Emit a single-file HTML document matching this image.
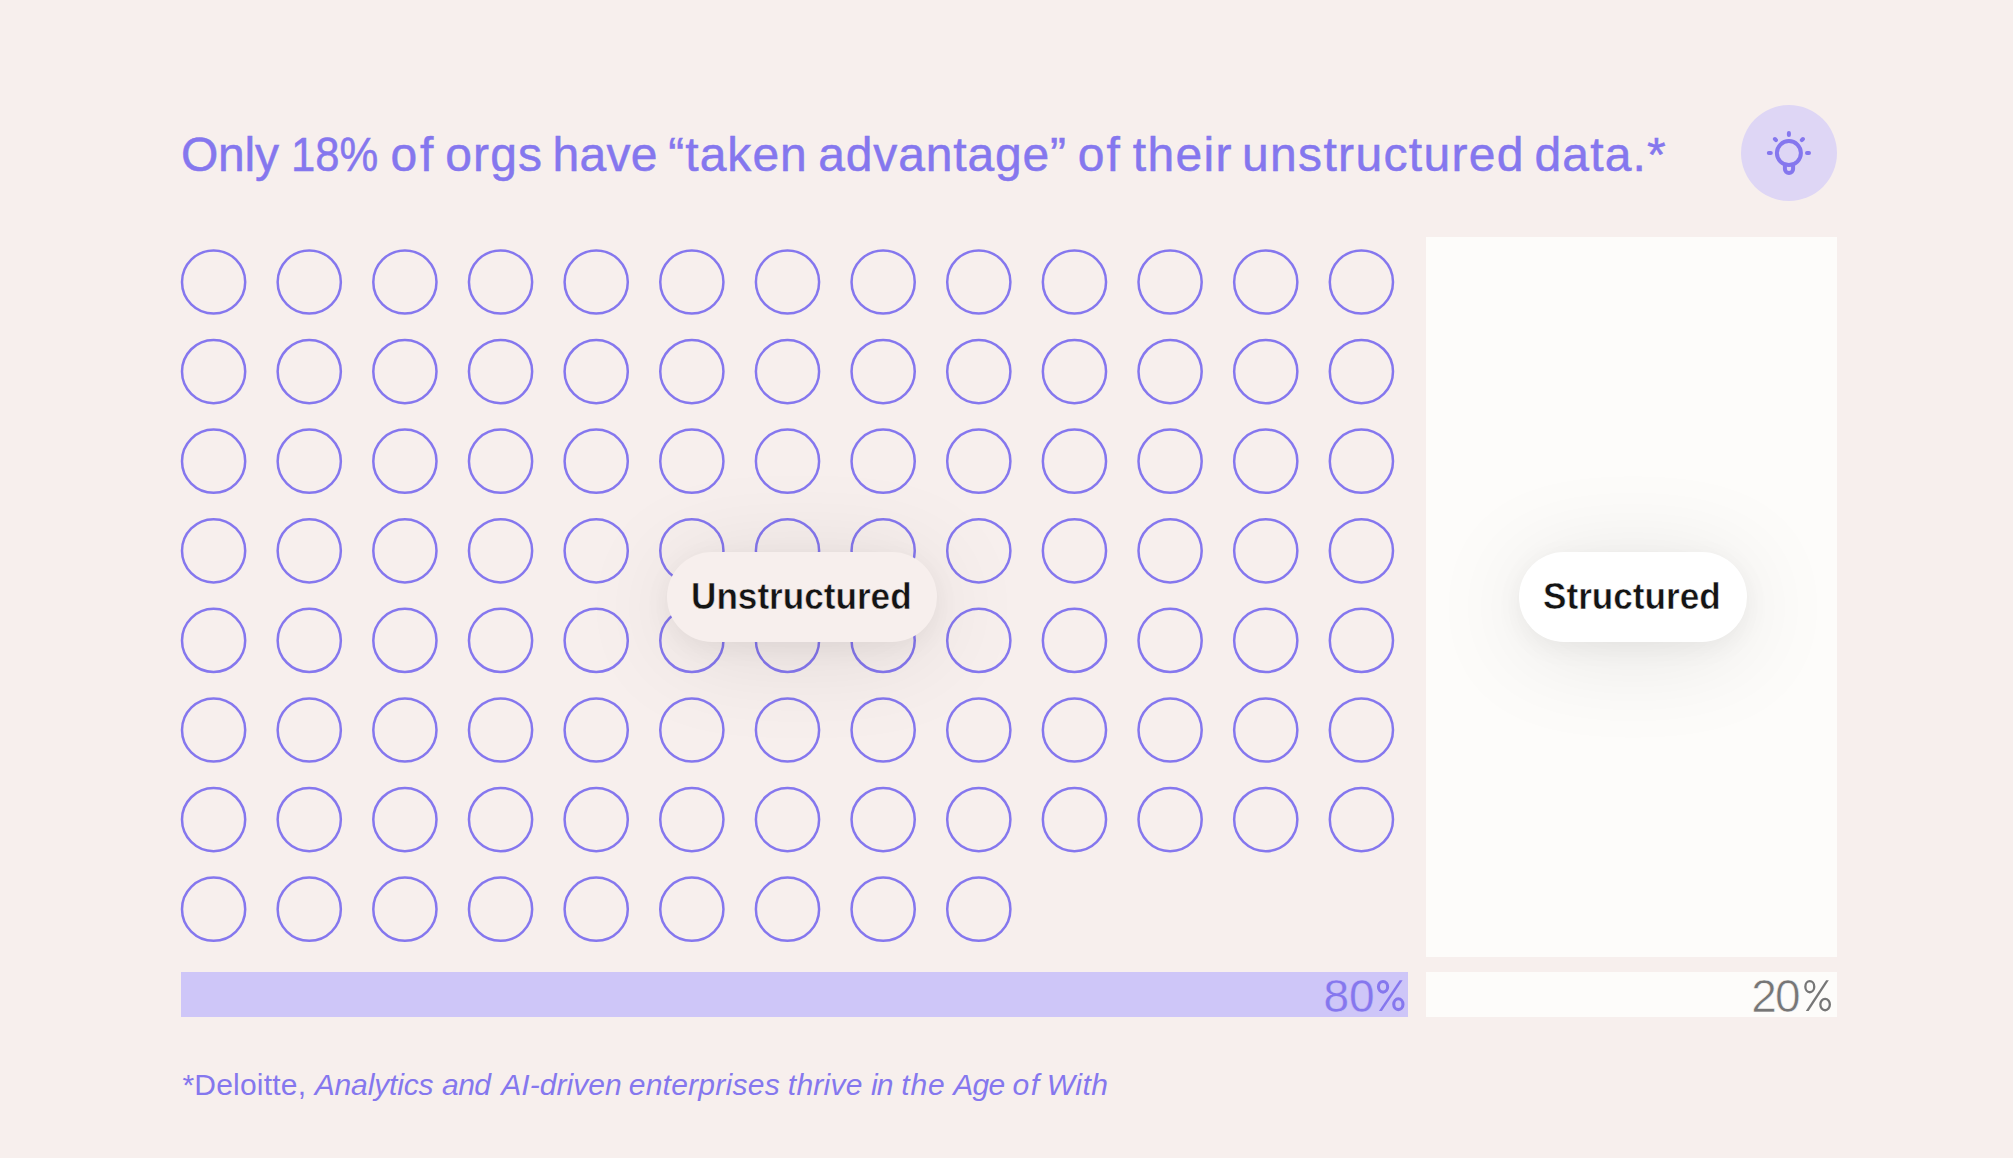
<!DOCTYPE html>
<html><head><meta charset="utf-8">
<style>
html,body{margin:0;padding:0;}
body{width:2013px;height:1158px;overflow:hidden;background:#F7EFED;position:relative;font-family:"Liberation Sans",sans-serif;}
.abs{position:absolute;}
#title{left:0;top:131px;font-size:48px;line-height:1;color:#8577EE;white-space:nowrap;-webkit-text-stroke:0.5px #8577EE;}
#title span{position:absolute;top:0;}
#bulb{left:1741px;top:105px;width:96px;height:96px;border-radius:50%;background:#DED6F5;}
#panel{left:1426px;top:237px;width:411px;height:720px;background:#FDFCFA;}
#bar80{left:181px;top:972px;width:1227px;height:45px;background:#CEC6F8;}
#bar20{left:1426px;top:972px;width:411px;height:45px;background:#FDFCFA;}
.pct{font-size:46px;line-height:1;white-space:nowrap;}
.pct b{font-weight:normal;display:inline-block;transform:scaleX(0.75);transform-origin:0 0;}
.pill{line-height:1;height:90px;border-radius:45px;box-shadow:0 6px 26px rgba(0,0,0,0.05),0 10px 100px rgba(0,0,0,0.10);font-weight:bold;font-size:37.2px;color:#141414;white-space:nowrap;}
.pill span{position:absolute;transform:scaleX(0.945);transform-origin:0 0;}
#foot{left:0;font-size:30px;line-height:1;color:#8577EE;white-space:nowrap;}
svg{position:absolute;left:0;top:0;}
#foot span{position:absolute;top:0;}
</style></head><body>
<div id="title" class="abs"><span style="left:180.9px;letter-spacing:-0.20px;">Only</span><span style="left:290.5px;transform:scaleX(0.908);transform-origin:0 0;">18%</span><span style="left:390.6px;letter-spacing:2.70px;">of</span><span style="left:445.2px;letter-spacing:1.13px;">orgs</span><span style="left:552.5px;letter-spacing:0.30px;">have</span><span style="left:668.3px;letter-spacing:1.02px;">“taken</span><span style="left:818.3px;letter-spacing:0.84px;">advantage”</span><span style="left:1077.8px;letter-spacing:2.10px;">of</span><span style="left:1132.8px;letter-spacing:1.35px;">their</span><span style="left:1242.1px;letter-spacing:1.32px;">unstructured</span><span style="left:1534.5px;letter-spacing:1.14px;">data.*</span></div>
<div id="bulb" class="abs"></div>
<svg width="2013" height="1158" viewBox="0 0 2013 1158">
<g fill="none" stroke="#8577EE" stroke-width="4" stroke-linecap="round">
<circle cx="1788.9" cy="153.1" r="12"/>
<path d="M1784.9 165.5V169A4.1 4.1 0 0 0 1793.1 169V165.5"/>
<path d="M1788.9 132.9V134.9M1768.8 153.1H1770.8M1807 153.1H1809M1774.9 139L1776 140.1M1802.9 139L1801.8 140.1"/>
</g>
</svg>
<div id="panel" class="abs"></div>
<svg width="2013" height="1158" viewBox="0 0 2013 1158">
<g fill="none" stroke="#8577EE" stroke-width="2.5">
<circle cx="213.60" cy="282.00" r="31.6"/>
<circle cx="309.25" cy="282.00" r="31.6"/>
<circle cx="404.90" cy="282.00" r="31.6"/>
<circle cx="500.55" cy="282.00" r="31.6"/>
<circle cx="596.20" cy="282.00" r="31.6"/>
<circle cx="691.85" cy="282.00" r="31.6"/>
<circle cx="787.50" cy="282.00" r="31.6"/>
<circle cx="883.15" cy="282.00" r="31.6"/>
<circle cx="978.80" cy="282.00" r="31.6"/>
<circle cx="1074.45" cy="282.00" r="31.6"/>
<circle cx="1170.10" cy="282.00" r="31.6"/>
<circle cx="1265.75" cy="282.00" r="31.6"/>
<circle cx="1361.40" cy="282.00" r="31.6"/>
<circle cx="213.60" cy="371.60" r="31.6"/>
<circle cx="309.25" cy="371.60" r="31.6"/>
<circle cx="404.90" cy="371.60" r="31.6"/>
<circle cx="500.55" cy="371.60" r="31.6"/>
<circle cx="596.20" cy="371.60" r="31.6"/>
<circle cx="691.85" cy="371.60" r="31.6"/>
<circle cx="787.50" cy="371.60" r="31.6"/>
<circle cx="883.15" cy="371.60" r="31.6"/>
<circle cx="978.80" cy="371.60" r="31.6"/>
<circle cx="1074.45" cy="371.60" r="31.6"/>
<circle cx="1170.10" cy="371.60" r="31.6"/>
<circle cx="1265.75" cy="371.60" r="31.6"/>
<circle cx="1361.40" cy="371.60" r="31.6"/>
<circle cx="213.60" cy="461.20" r="31.6"/>
<circle cx="309.25" cy="461.20" r="31.6"/>
<circle cx="404.90" cy="461.20" r="31.6"/>
<circle cx="500.55" cy="461.20" r="31.6"/>
<circle cx="596.20" cy="461.20" r="31.6"/>
<circle cx="691.85" cy="461.20" r="31.6"/>
<circle cx="787.50" cy="461.20" r="31.6"/>
<circle cx="883.15" cy="461.20" r="31.6"/>
<circle cx="978.80" cy="461.20" r="31.6"/>
<circle cx="1074.45" cy="461.20" r="31.6"/>
<circle cx="1170.10" cy="461.20" r="31.6"/>
<circle cx="1265.75" cy="461.20" r="31.6"/>
<circle cx="1361.40" cy="461.20" r="31.6"/>
<circle cx="213.60" cy="550.80" r="31.6"/>
<circle cx="309.25" cy="550.80" r="31.6"/>
<circle cx="404.90" cy="550.80" r="31.6"/>
<circle cx="500.55" cy="550.80" r="31.6"/>
<circle cx="596.20" cy="550.80" r="31.6"/>
<circle cx="691.85" cy="550.80" r="31.6"/>
<circle cx="787.50" cy="550.80" r="31.6"/>
<circle cx="883.15" cy="550.80" r="31.6"/>
<circle cx="978.80" cy="550.80" r="31.6"/>
<circle cx="1074.45" cy="550.80" r="31.6"/>
<circle cx="1170.10" cy="550.80" r="31.6"/>
<circle cx="1265.75" cy="550.80" r="31.6"/>
<circle cx="1361.40" cy="550.80" r="31.6"/>
<circle cx="213.60" cy="640.40" r="31.6"/>
<circle cx="309.25" cy="640.40" r="31.6"/>
<circle cx="404.90" cy="640.40" r="31.6"/>
<circle cx="500.55" cy="640.40" r="31.6"/>
<circle cx="596.20" cy="640.40" r="31.6"/>
<circle cx="691.85" cy="640.40" r="31.6"/>
<circle cx="787.50" cy="640.40" r="31.6"/>
<circle cx="883.15" cy="640.40" r="31.6"/>
<circle cx="978.80" cy="640.40" r="31.6"/>
<circle cx="1074.45" cy="640.40" r="31.6"/>
<circle cx="1170.10" cy="640.40" r="31.6"/>
<circle cx="1265.75" cy="640.40" r="31.6"/>
<circle cx="1361.40" cy="640.40" r="31.6"/>
<circle cx="213.60" cy="730.00" r="31.6"/>
<circle cx="309.25" cy="730.00" r="31.6"/>
<circle cx="404.90" cy="730.00" r="31.6"/>
<circle cx="500.55" cy="730.00" r="31.6"/>
<circle cx="596.20" cy="730.00" r="31.6"/>
<circle cx="691.85" cy="730.00" r="31.6"/>
<circle cx="787.50" cy="730.00" r="31.6"/>
<circle cx="883.15" cy="730.00" r="31.6"/>
<circle cx="978.80" cy="730.00" r="31.6"/>
<circle cx="1074.45" cy="730.00" r="31.6"/>
<circle cx="1170.10" cy="730.00" r="31.6"/>
<circle cx="1265.75" cy="730.00" r="31.6"/>
<circle cx="1361.40" cy="730.00" r="31.6"/>
<circle cx="213.60" cy="819.60" r="31.6"/>
<circle cx="309.25" cy="819.60" r="31.6"/>
<circle cx="404.90" cy="819.60" r="31.6"/>
<circle cx="500.55" cy="819.60" r="31.6"/>
<circle cx="596.20" cy="819.60" r="31.6"/>
<circle cx="691.85" cy="819.60" r="31.6"/>
<circle cx="787.50" cy="819.60" r="31.6"/>
<circle cx="883.15" cy="819.60" r="31.6"/>
<circle cx="978.80" cy="819.60" r="31.6"/>
<circle cx="1074.45" cy="819.60" r="31.6"/>
<circle cx="1170.10" cy="819.60" r="31.6"/>
<circle cx="1265.75" cy="819.60" r="31.6"/>
<circle cx="1361.40" cy="819.60" r="31.6"/>
<circle cx="213.60" cy="909.20" r="31.6"/>
<circle cx="309.25" cy="909.20" r="31.6"/>
<circle cx="404.90" cy="909.20" r="31.6"/>
<circle cx="500.55" cy="909.20" r="31.6"/>
<circle cx="596.20" cy="909.20" r="31.6"/>
<circle cx="691.85" cy="909.20" r="31.6"/>
<circle cx="787.50" cy="909.20" r="31.6"/>
<circle cx="883.15" cy="909.20" r="31.6"/>
<circle cx="978.80" cy="909.20" r="31.6"/>
</g>
</svg>
<div id="bar80" class="abs"></div>
<div id="bar20" class="abs"></div>
<div id="p80" class="abs pct" style="left:1323.5px;top:972.8px;color:#8577EE;-webkit-text-stroke:0.35px #CEC6F8;">80</div>
<div id="p20" class="abs pct" style="left:1751.3px;top:972.8px;color:#767676;letter-spacing:-2px;-webkit-text-stroke:0.6px #FDFCFA;">20</div>
<svg width="2013" height="1158" viewBox="0 0 2013 1158">
<g fill="none" stroke="#8577EE" stroke-width="3.1">
<ellipse cx="1383.05" cy="986.85" rx="4.6" ry="5.3"/>
<ellipse cx="1398.35" cy="1004.2" rx="4.6" ry="5.4"/>
</g>
<path fill="#8577EE" d="M1378.9 1010.9H1381.9L1402.6 980.3H1399.6Z"/>
<g fill="none" stroke="#767676" stroke-width="2.3">
<ellipse cx="1809.8" cy="986.7" rx="4.45" ry="5.55"/>
<ellipse cx="1825.1" cy="1004.6" rx="4.75" ry="5.65"/>
</g>
<path fill="#767676" d="M1805.8 1010.9H1808.6L1828.8 980.3H1826.1Z"/>
</svg>
<div id="pillU" class="abs pill" style="left:667px;top:552px;width:270px;background:#F7EFED;"><span id="tU" style="left:23.5px;top:26.2px;-webkit-text-stroke:0.5px #F7EFED;">Unstructured</span></div>
<div id="pillS" class="abs pill" style="left:1519px;top:552px;width:228px;background:#FFFFFF;"><span id="tS" style="left:23.5px;top:26.2px;-webkit-text-stroke:0.5px #FFFFFF;">Structured</span></div>
<div id="foot" class="abs" style="top:1070px;"><span style="left:182.4px;letter-spacing:0.22px;">*Deloitte,</span><span style="left:314.7px;letter-spacing:-0.14px;font-style:italic;">Analytics</span><span style="left:442.0px;letter-spacing:-0.50px;font-style:italic;">and</span><span style="left:501.2px;letter-spacing:0.07px;font-style:italic;">AI-driven</span><span style="left:628.7px;letter-spacing:0.26px;font-style:italic;">enterprises</span><span style="left:787.8px;letter-spacing:0.26px;font-style:italic;">thrive</span><span style="left:871.0px;letter-spacing:-0.90px;font-style:italic;">in</span><span style="left:901.3px;letter-spacing:0.80px;font-style:italic;">the</span><span style="left:953.3px;letter-spacing:-0.80px;font-style:italic;">Age</span><span style="left:1012.4px;letter-spacing:1.60px;font-style:italic;">of</span><span style="left:1046.8px;letter-spacing:0.47px;font-style:italic;">With</span></div>
</body></html>
